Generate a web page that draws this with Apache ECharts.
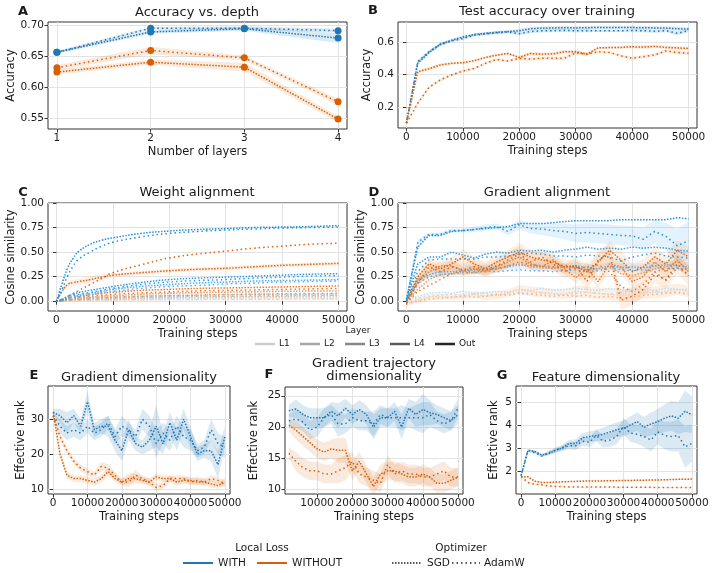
<!DOCTYPE html>
<html>
<head>
<meta charset="utf-8">
<script src="https://cdn.jsdelivr.net/npm/echarts@6.0.0/dist/echarts.min.js"></script>
<style>
  html, body { margin: 0; padding: 0; background: #fff; }
  #chart { width: 714px; height: 573px; }
</style>
</head>
<body>
<div id="chart"></div>
<script>
/* ---- data ---- */

// A: accuracy vs depth
const depthLayers = [1, 2, 3, 4];
const accWithSgd = [0.657, 0.696, 0.696, 0.692];
const accWithAdam = [0.657, 0.690, 0.695, 0.680];
const accWithoutSgd = [0.632, 0.660, 0.648, 0.577];
const accWithoutAdam = [0.625, 0.641, 0.633, 0.549];
const accWithSgdErr = [0.002, 0.002, 0.003, 0.003];
const accWithAdamErr = [0.002, 0.003, 0.003, 0.008];
const accWithoutSgdErr = [0.004, 0.006, 0.004, 0.005];
const accWithoutAdamErr = [0.004, 0.004, 0.007, 0.005];

// shared training steps
const steps = [0, 2000, 4000, 6000, 8000, 10000, 12000, 14000, 16000, 18000, 20000, 22000, 24000,
  26000, 28000, 30000, 32000, 34000, 36000, 38000, 40000, 42000, 44000, 46000, 48000, 50000];
const stepsF = [2000, 4000, 6000, 8000, 10000, 12000, 14000, 16000, 18000, 20000, 22000, 24000,
  26000, 28000, 30000, 32000, 34000, 36000, 38000, 40000, 42000, 44000, 46000, 48000, 50000];
const stepsC = [0, 1000, 2000, 3000, 4000, 6000, 8000, 10000, 15000, 20000, 25000, 30000, 35000, 40000, 45000, 50000];

// B: test accuracy
const bWithSgd = [0.105, 0.47, 0.535, 0.585, 0.61, 0.63, 0.645, 0.652, 0.658, 0.663, 0.668, 0.68, 0.684,
  0.685, 0.686, 0.685, 0.686, 0.688, 0.687, 0.688, 0.687, 0.686, 0.685, 0.684, 0.68, 0.678];
const bWithAdam = [0.105, 0.48, 0.54, 0.585, 0.605, 0.62, 0.64, 0.648, 0.655, 0.66, 0.65, 0.663, 0.667,
  0.668, 0.67, 0.667, 0.668, 0.668, 0.668, 0.668, 0.669, 0.668, 0.664, 0.668, 0.652, 0.668];
const bWithoutSgd = [0.105, 0.418, 0.436, 0.459, 0.469, 0.473, 0.485, 0.505, 0.519, 0.529, 0.505, 0.529, 0.525,
  0.527, 0.54, 0.54, 0.525, 0.564, 0.565, 0.566, 0.57, 0.568, 0.572, 0.566, 0.563, 0.56];
const bWithoutAdam = [0.105, 0.226, 0.323, 0.368, 0.398, 0.422, 0.438, 0.469, 0.493, 0.483, 0.499, 0.495, 0.5,
  0.5, 0.5, 0.533, 0.525, 0.54, 0.535, 0.515, 0.5, 0.51, 0.52, 0.545, 0.535, 0.53];
const bErr = [0, 0.01, 0.01, 0.01, 0.008, 0.008, 0.008, 0.008, 0.008, 0.008, 0.01, 0.01, 0.01,
  0.01, 0.01, 0.01, 0.01, 0.008, 0.008, 0.008, 0.01, 0.01, 0.01, 0.01, 0.012, 0.01];

// C: weight alignment (per layer)
const cWithOutSgd = [0, 0.18, 0.34, 0.44, 0.51, 0.58, 0.62, 0.645, 0.69, 0.715, 0.73, 0.74, 0.75, 0.755, 0.76, 0.77];
const cWithOutAdam = [0, 0.12, 0.26, 0.36, 0.43, 0.50, 0.56, 0.60, 0.655, 0.69, 0.71, 0.725, 0.735, 0.745, 0.75, 0.755];
const cWithL4Sgd = [0, 0.02, 0.05, 0.07, 0.09, 0.11, 0.13, 0.15, 0.19, 0.22, 0.235, 0.245, 0.255, 0.265, 0.275, 0.28];
const cWithL4Adam = [0, 0.015, 0.04, 0.055, 0.07, 0.09, 0.11, 0.13, 0.17, 0.195, 0.21, 0.22, 0.235, 0.245, 0.255, 0.26];
const cWithL3Sgd = [0, 0.01, 0.03, 0.045, 0.06, 0.08, 0.10, 0.12, 0.15, 0.17, 0.185, 0.195, 0.205, 0.21, 0.215, 0.22];
const cWithL3Adam = [0, 0.01, 0.025, 0.035, 0.045, 0.065, 0.085, 0.10, 0.13, 0.15, 0.16, 0.175, 0.185, 0.195, 0.20, 0.205];
const cWithL2Sgd = [0, 0.005, 0.01, 0.015, 0.02, 0.03, 0.035, 0.04, 0.05, 0.055, 0.06, 0.065, 0.07, 0.07, 0.072, 0.075];
const cWithL2Adam = [0, 0.005, 0.01, 0.012, 0.015, 0.02, 0.025, 0.03, 0.04, 0.045, 0.05, 0.05, 0.055, 0.055, 0.058, 0.06];
const cWithL1Sgd = [0, 0.003, 0.005, 0.008, 0.01, 0.013, 0.016, 0.02, 0.025, 0.03, 0.033, 0.035, 0.037, 0.04, 0.04, 0.042];
const cWithL1Adam = [0, 0.002, 0.004, 0.005, 0.006, 0.008, 0.01, 0.012, 0.015, 0.017, 0.018, 0.019, 0.02, 0.021, 0.022, 0.022];
const cWithoutOutSgd = [0, 0.10, 0.17, 0.19, 0.20, 0.22, 0.245, 0.265, 0.29, 0.31, 0.325, 0.335, 0.35, 0.365, 0.375, 0.385];
const cWithoutOutAdam = [0, 0.02, 0.05, 0.08, 0.11, 0.17, 0.23, 0.29, 0.37, 0.44, 0.48, 0.51, 0.54, 0.56, 0.58, 0.59];
const cWithoutL4Sgd = [0, 0.01, 0.03, 0.04, 0.05, 0.065, 0.08, 0.09, 0.11, 0.12, 0.13, 0.135, 0.14, 0.145, 0.15, 0.155];
const cWithoutL4Adam = [0, 0.01, 0.02, 0.03, 0.04, 0.05, 0.06, 0.07, 0.085, 0.095, 0.105, 0.11, 0.115, 0.12, 0.125, 0.13];
const cWithoutL3Sgd = [0, 0.005, 0.015, 0.02, 0.03, 0.04, 0.05, 0.055, 0.07, 0.08, 0.087, 0.092, 0.096, 0.1, 0.103, 0.105];
const cWithoutL3Adam = [0, 0.005, 0.01, 0.015, 0.02, 0.03, 0.035, 0.04, 0.05, 0.058, 0.063, 0.068, 0.072, 0.075, 0.078, 0.08];
const cWithoutL2Sgd = [0, 0.003, 0.006, 0.01, 0.012, 0.016, 0.02, 0.025, 0.032, 0.038, 0.042, 0.046, 0.049, 0.051, 0.053, 0.055];
const cWithoutL1Sgd = [0, 0.001, 0.003, 0.004, 0.005, 0.007, 0.009, 0.01, 0.013, 0.016, 0.018, 0.02, 0.021, 0.023, 0.024, 0.025];
const cWithoutOutSgdErr = [0, 0.02, 0.03, 0.03, 0.03, 0.03, 0.03, 0.02, 0.02, 0.02, 0.02, 0.02, 0.02, 0.02, 0.02, 0.02];

// D: gradient alignment (per layer)
const dWithOutSgd = [0.02, 0.55, 0.67, 0.67, 0.71, 0.72, 0.73, 0.74, 0.75, 0.76, 0.79, 0.79, 0.79,
  0.80, 0.81, 0.82, 0.82, 0.82, 0.82, 0.83, 0.83, 0.83, 0.83, 0.83, 0.85, 0.84];
const dWithOutAdam = [0.0, 0.60, 0.68, 0.68, 0.72, 0.72, 0.73, 0.75, 0.76, 0.71, 0.78, 0.74, 0.735,
  0.72, 0.71, 0.69, 0.70, 0.69, 0.68, 0.67, 0.665, 0.63, 0.71, 0.66, 0.565, 0.615];
const dWithL4Sgd = [0.02, 0.38, 0.45, 0.45, 0.50, 0.47, 0.44, 0.48, 0.50, 0.49, 0.52, 0.51, 0.52,
  0.50, 0.52, 0.53, 0.55, 0.53, 0.54, 0.53, 0.55, 0.54, 0.55, 0.54, 0.52, 0.51];
const dWithL4Adam = [0.02, 0.30, 0.42, 0.43, 0.43, 0.43, 0.43, 0.45, 0.45, 0.46, 0.48, 0.49, 0.48,
  0.46, 0.46, 0.45, 0.47, 0.46, 0.45, 0.41, 0.45, 0.47, 0.49, 0.46, 0.45, 0.44];
const dWithL3Sgd = [0.01, 0.22, 0.27, 0.30, 0.30, 0.31, 0.32, 0.33, 0.33, 0.35, 0.37, 0.36, 0.35,
  0.34, 0.35, 0.36, 0.34, 0.33, 0.36, 0.34, 0.35, 0.34, 0.36, 0.37, 0.36, 0.35];
const dWithL3Adam = [0.0, 0.18, 0.25, 0.27, 0.28, 0.29, 0.29, 0.31, 0.30, 0.31, 0.32, 0.31, 0.31,
  0.30, 0.31, 0.32, 0.30, 0.31, 0.34, 0.32, 0.31, 0.32, 0.30, 0.33, 0.34, 0.32];
const dWithL1Sgd = [0.01, 0.05, 0.08, 0.09, 0.08, 0.10, 0.08, 0.09, 0.10, 0.09, 0.12, 0.11, 0.13,
  0.11, 0.12, 0.13, 0.12, 0.11, 0.13, 0.12, 0.11, 0.12, 0.11, 0.13, 0.12, 0.12];
const dWithL1Adam = [-0.01, 0.03, 0.05, 0.06, 0.07, 0.06, 0.07, 0.08, 0.06, 0.07, 0.09, 0.08, 0.08,
  0.07, 0.06, 0.08, 0.09, 0.08, 0.07, 0.09, 0.10, 0.09, 0.10, 0.08, 0.09, 0.08];
const dWithoutOutSgd = [0.0, 0.25, 0.38, 0.33, 0.38, 0.45, 0.38, 0.33, 0.40, 0.45, 0.50, 0.45, 0.42,
  0.40, 0.35, 0.36, 0.30, 0.40, 0.52, 0.42, 0.30, 0.35, 0.45, 0.38, 0.52, 0.45];
const dWithoutOutAdam = [-0.02, 0.18, 0.35, 0.30, 0.35, 0.32, 0.35, 0.32, 0.36, 0.42, 0.48, 0.40, 0.45,
  0.38, 0.30, 0.36, 0.20, 0.42, 0.48, 0.01, 0.05, 0.12, 0.27, 0.22, 0.38, 0.26];
const dWithoutL4Sgd = [0.0, 0.20, 0.30, 0.36, 0.36, 0.31, 0.33, 0.30, 0.35, 0.40, 0.45, 0.38, 0.35,
  0.42, 0.33, 0.24, 0.33, 0.20, 0.38, 0.35, 0.20, 0.25, 0.40, 0.30, 0.42, 0.30];
const dWithoutL4Adam = [-0.02, 0.10, 0.16, 0.22, 0.28, 0.31, 0.30, 0.32, 0.33, 0.36, 0.40, 0.37, 0.36,
  0.35, 0.37, 0.33, 0.35, 0.37, 0.30, 0.15, 0.10, 0.17, 0.30, 0.21, 0.34, 0.27];
const dWithoutL3Sgd = [0.0, 0.12, 0.22, 0.27, 0.28, 0.30, 0.29, 0.31, 0.33, 0.36, 0.38, 0.35, 0.34,
  0.33, 0.35, 0.34, 0.32, 0.33, 0.36, 0.28, 0.26, 0.29, 0.33, 0.35, 0.40, 0.33];
const dWithoutL1Sgd = [-0.03, 0.01, 0.04, 0.05, 0.04, 0.05, 0.07, 0.05, 0.06, 0.08, 0.12, 0.10, 0.09,
  0.08, 0.07, 0.10, 0.09, 0.08, 0.07, 0.06, 0.07, 0.08, 0.09, 0.10, 0.12, 0.10];
const dWithoutL1Adam = [-0.03, 0.0, 0.02, 0.03, 0.04, 0.05, 0.04, 0.05, 0.07, 0.06, 0.08, 0.07, 0.06,
  0.05, 0.06, 0.05, 0.06, 0.04, 0.05, 0.03, 0.04, 0.06, 0.07, 0.08, 0.09, 0.07];
const dWithOutAdamErr = [0.01, 0.03, 0.02, 0.02, 0.02, 0.02, 0.03, 0.03, 0.03, 0.04, 0.05, 0.05, 0.06,
  0.07, 0.08, 0.09, 0.1, 0.1, 0.1, 0.1, 0.1, 0.12, 0.12, 0.14, 0.17, 0.2];
const dWithoutOutSgdErr = [0.02, 0.05, 0.06, 0.06, 0.07, 0.08, 0.08, 0.07, 0.08, 0.08, 0.09, 0.08, 0.08,
  0.08, 0.07, 0.07, 0.08, 0.08, 0.09, 0.09, 0.08, 0.08, 0.1, 0.09, 0.1, 0.1];
const dWithoutOutAdamErr = [0.02, 0.06, 0.06, 0.06, 0.07, 0.06, 0.07, 0.06, 0.07, 0.08, 0.08, 0.08, 0.08,
  0.07, 0.07, 0.08, 0.1, 0.1, 0.1, 0.1, 0.09, 0.08, 0.09, 0.09, 0.1, 0.1];
const dWithoutL4SgdErr = [0.02, 0.04, 0.05, 0.05, 0.05, 0.05, 0.05, 0.05, 0.05, 0.06, 0.06, 0.06, 0.06,
  0.06, 0.06, 0.06, 0.07, 0.07, 0.07, 0.07, 0.07, 0.07, 0.07, 0.07, 0.07, 0.07];
const dWithoutL1SgdErr = [0.02, 0.03, 0.03, 0.03, 0.03, 0.03, 0.03, 0.04, 0.04, 0.04, 0.05, 0.05, 0.05,
  0.05, 0.05, 0.06, 0.06, 0.06, 0.06, 0.06, 0.07, 0.06, 0.06, 0.06, 0.06, 0.06];
const dWithL3Err = [0.01, 0.03, 0.04, 0.04, 0.04, 0.04, 0.04, 0.04, 0.04, 0.04, 0.04, 0.04, 0.04,
  0.04, 0.04, 0.04, 0.04, 0.04, 0.04, 0.04, 0.04, 0.04, 0.04, 0.04, 0.05, 0.05];

// E: gradient dimensionality
const eWithSgd = [32, 31, 29, 31, 28, 35, 27, 28, 28, 24, 21, 27, 23, 22, 24, 28, 23, 29, 24, 30, 25, 20, 21, 21, 17, 25];
const eWithAdam = [31, 28, 26, 27, 26, 28, 26, 27, 29, 25, 28, 27, 25, 30, 28, 23, 26, 24, 28, 25, 24, 21, 22, 27, 23, 22];
const eWithoutSgd = [32, 20, 14, 13, 13, 12.5, 12, 13, 15, 13, 12, 13, 13, 12.5, 12, 13.5, 13, 13, 12, 12.5, 12.5, 12, 12, 11.5, 11, 12];
const eWithoutAdam = [31, 25, 21, 18, 16, 15, 14, 16.5, 16, 14, 12, 12, 14, 13, 12, 10.5, 11, 13, 13, 13, 12, 12.5, 12, 13, 12.5, 11.5];
const eWithSgdErr = [1, 2, 3, 2, 2, 3, 2, 2, 3, 3, 3, 3, 2, 2, 3, 6, 3, 3, 3, 3, 3, 2, 2, 3, 4, 3];
const eWithAdamErr = [1, 2, 2, 2, 2, 2, 2, 2, 2, 2, 3, 2, 2, 3, 3, 4, 3, 3, 3, 3, 3, 2, 2, 3, 3, 3];
const eWithoutErr = [0.5, 1, 1, 1, 1, 1, 1, 1.2, 1.2, 1, 1, 1.5, 1.5, 1, 1, 1, 1, 1, 1, 1, 1, 1, 1, 1, 1, 1];

// F: gradient trajectory dimensionality
const fWithSgd = [22.6, 22.9, 22, 21.5, 21.5, 21.5, 22.5, 21.8, 23, 22, 22.8, 22, 20, 21.5, 21.5, 22.5, 20, 23, 22, 22.8, 22.3, 22, 21.5, 21, 22];
const fWithAdam = [21, 21.3, 20.8, 19.5, 20, 21.5, 22, 20.5, 20.5, 21.5, 21, 21, 20.5, 22, 21.5, 21.5, 21.5, 21.5, 21.5, 21.5, 22, 21, 20.5, 21, 23];
const fWithoutSgd = [20.3, 19.5, 18.5, 17.5, 16.5, 16, 16.5, 16.3, 16.3, 13, 14.5, 12.5, 10.5, 12.5, 13, 13, 12.5, 12, 12, 12.5, 12, 11, 11, 11.5, 12];
const fWithoutAdam = [15.8, 14.5, 13.5, 13, 13, 12.5, 12.5, 13, 13.5, 14.5, 12.5, 12, 11.5, 11, 14, 12.5, 13, 12.5, 12.5, 12, 12, 12.5, 13, 12, 12];
const fWithErr = [1, 1.5, 1.5, 1.5, 1.5, 1.5, 1.5, 2, 1.5, 1.5, 1.5, 1.5, 2, 1.5, 1.5, 1.5, 2, 1.5, 2, 2.5, 2, 1.5, 1.5, 1.5, 1.5];
const fWithoutErr = [1, 1.5, 1.5, 1.5, 1.5, 1.5, 1.5, 2, 2, 1.5, 1.5, 1.5, 1.5, 1.5, 1.5, 1.5, 1.5, 1.5, 1.5, 1.5, 1.5, 1.5, 1.5, 1.5, 1.5];

// G: feature dimensionality
const gWithSgd = [1.8, 2.9, 2.85, 2.7, 2.75, 2.9, 3.0, 3.2, 3.2, 3.45, 3.5, 3.55, 3.6, 3.7, 3.8, 3.85, 4.0, 4.15, 3.9, 4.05, 4.15, 4.3, 4.4, 4.3, 4.6, 4.45];
const gWithAdam = [1.8, 2.9, 2.8, 2.65, 2.8, 2.9, 3.0, 3.1, 3.1, 3.3, 3.25, 3.55, 3.3, 3.35, 3.5, 3.95, 3.65, 3.6, 3.5, 3.35, 3.7, 3.55, 3.5, 3.55, 3.05, 3.2];
const gWithoutSgd = [1.75, 1.75, 1.55, 1.5, 1.5, 1.52, 1.53, 1.54, 1.55, 1.56, 1.57, 1.57, 1.57, 1.58, 1.58, 1.59, 1.59, 1.6, 1.6, 1.61, 1.61, 1.62, 1.63, 1.64, 1.64, 1.65];
const gWithoutAdam = [1.75, 1.5, 1.42, 1.4, 1.35, 1.33, 1.32, 1.31, 1.31, 1.3, 1.3, 1.3, 1.3, 1.3, 1.3, 1.29, 1.29, 1.29, 1.29, 1.29, 1.28, 1.28, 1.28, 1.28, 1.28, 1.28];
const gWithErr = [0.02, 0.05, 0.05, 0.05, 0.08, 0.1, 0.12, 0.15, 0.18, 0.2, 0.22, 0.25, 0.28, 0.3, 0.32, 0.35, 0.38, 0.4, 0.45, 0.5, 0.55, 0.6, 0.65, 0.7, 0.9, 0.8];
const gWithoutErr = [0.02, 0.03, 0.03, 0.03, 0.03, 0.03, 0.03, 0.03, 0.03, 0.03, 0.03, 0.03, 0.03, 0.03, 0.03, 0.03, 0.03, 0.03, 0.03, 0.03, 0.03, 0.03, 0.03, 0.03, 0.03, 0.03];

// tick labels
const ticksDepth = [1, 2, 3, 4];
const ticksSteps = [0, 10000, 20000, 30000, 40000, 50000];
const ticksStepsF = [10000, 20000, 30000, 40000, 50000];
const ticksAccA = [0.55, 0.60, 0.65, 0.70];
const ticksAccB = [0.2, 0.4, 0.6];
const ticksCos = [0, 0.25, 0.5, 0.75, 1.0];
const ticksRankE = [10, 20, 30];
const ticksRankF = [10, 15, 20, 25];
const ticksRankG = [2, 3, 4, 5];

/* ---- styling ---- */
const BLUE = '#1f77b4';
const ORANGE = '#d95f02';
const BLUE_L = { L1: '#b3dcf7', L2: '#86c9f3', L3: '#52b0ee', L4: '#2d9fe9', Out: '#1f8fdc' };
const ORANGE_L = { L1: '#f8cfb1', L2: '#f5b285', L3: '#f0955a', L4: '#ea7a2c', Out: '#e0620d' };
const BAND_BLUE = 'rgba(31,119,180,0.16)';
const BAND_ORANGE = 'rgba(217,95,2,0.13)';
const BAND_SKY = 'rgba(58,166,238,0.14)';
const BAND_PEACH = 'rgba(240,130,50,0.13)';
const SGD = [1.5, 1.5];
const ADAMW = [1.5, 3];
const FONT = '"DejaVu Sans", sans-serif';
const TXT = '#1a1a1a';

function pts(xs, ys) { return xs.map((x, i) => [x, ys[i]]); }

function line(g, xs, ys, color, dash, extra) {
  return Object.assign({
    type: 'line', xAxisIndex: g, yAxisIndex: g, data: pts(xs, ys),
    symbol: 'none', silent: true, z: 4,
    lineStyle: { color: color, width: 1.5, type: dash, cap: 'butt' },
    itemStyle: { color: color }
  }, extra || {});
}

// shaded spread: one polygon through the axis scales (upper edge, then lower edge back)
function band(g, xs, ys, err, fill) {
  const lo = ys.map((y, i) => y - err[i]);
  const hi = ys.map((y, i) => y + err[i]);
  return {
    type: 'custom', xAxisIndex: g, yAxisIndex: g, silent: true, z: 2, clip: true,
    data: xs.map((x, i) => [x, lo[i], hi[i]]),
    encode: { x: 0, y: [1, 2] },
    renderItem: function (params, api) {
      if (params.dataIndex !== 0) return null;
      const top = xs.map((x, i) => api.coord([x, hi[i]]));
      const bottom = xs.map((x, i) => api.coord([x, lo[i]])).reverse();
      return { type: 'polygon', shape: { points: top.concat(bottom) }, style: { fill: fill } };
    }
  };
}

function xAx(g, min, max, ticks, name) {
  return {
    type: 'value', gridIndex: g, min: min, max: max,
    name: name, nameLocation: 'middle', nameGap: 17,
    nameTextStyle: { fontFamily: FONT, fontSize: 11.5, color: TXT },
    axisLine: { show: false },
    axisTick: { show: true, length: 3.5, customValues: ticks, lineStyle: { color: '#333' } },
    axisLabel: { customValues: ticks, fontFamily: FONT, fontSize: 10.5, color: TXT, margin: 4,
      showMinLabel: true, showMaxLabel: true, hideOverlap: false, formatter: v => String(v) },
    splitLine: { show: true, lineStyle: { color: '#e3e3e3', width: 1 } }
  };
}

function yAx(g, min, max, ticks, name, gap, digits) {
  return {
    type: 'value', gridIndex: g, min: min, max: max,
    name: name, nameLocation: 'middle', nameGap: gap,
    nameTextStyle: { fontFamily: FONT, fontSize: 11.5, color: TXT },
    axisLine: { show: false },
    axisTick: { show: true, length: 3.5, customValues: ticks, lineStyle: { color: '#333' } },
    axisLabel: { customValues: ticks, fontFamily: FONT, fontSize: 10.5, color: TXT, margin: 4,
      showMinLabel: true, showMaxLabel: true, hideOverlap: false,
      formatter: v => digits == null ? String(v) : Number(v).toFixed(digits) },
    splitLine: { show: true, lineStyle: { color: '#e3e3e3', width: 1 } }
  };
}

function grid(left, top, width, height) {
  return { left: left, top: top, width: width, height: height, show: true,
    borderColor: '#333', borderWidth: 1, backgroundColor: 'transparent' };
}

function txt(x, y, text, font, align) {
  return { type: 'text', x: x, y: y, silent: true,
    style: { text: text, font: font, fill: TXT, align: align || 'center', verticalAlign: 'middle' } };
}

function hline(x1, x2, y, color, width, dash) {
  return { type: 'line', silent: true, shape: { x1: x1, y1: y, x2: x2, y2: y },
    style: { stroke: color, lineWidth: width, lineDash: dash || null } };
}

/* ---- series ---- */
const series = [];
const push = s => series.push(s);

// A
const dot = { symbol: 'circle', symbolSize: 7, showSymbol: true };
push(band(0, depthLayers, accWithSgd, accWithSgdErr, BAND_BLUE));
push(band(0, depthLayers, accWithAdam, accWithAdamErr, BAND_BLUE));
push(band(0, depthLayers, accWithoutSgd, accWithoutSgdErr, BAND_ORANGE));
push(band(0, depthLayers, accWithoutAdam, accWithoutAdamErr, BAND_ORANGE));
push(line(0, depthLayers, accWithSgd, BLUE, ADAMW, dot));
push(line(0, depthLayers, accWithAdam, BLUE, SGD, dot));
push(line(0, depthLayers, accWithoutSgd, ORANGE, ADAMW, dot));
push(line(0, depthLayers, accWithoutAdam, ORANGE, SGD, dot));

// B
push(band(1, steps, bWithSgd, bErr, BAND_BLUE));
push(band(1, steps, bWithAdam, bErr, BAND_BLUE));
push(band(1, steps, bWithoutSgd, bErr, BAND_ORANGE));
push(band(1, steps, bWithoutAdam, bErr, BAND_ORANGE));
push(line(1, steps, bWithSgd, BLUE, SGD));
push(line(1, steps, bWithAdam, BLUE, ADAMW));
push(line(1, steps, bWithoutSgd, ORANGE, SGD));
push(line(1, steps, bWithoutAdam, ORANGE, ADAMW));

// C
const sm = { smooth: true };
push(band(2, stepsC, cWithoutOutSgd, cWithoutOutSgdErr, BAND_PEACH));
[
  [cWithL1Sgd, BLUE_L.L1, SGD], [cWithL1Adam, BLUE_L.L1, ADAMW],
  [cWithL2Sgd, BLUE_L.L2, SGD], [cWithL2Adam, BLUE_L.L2, ADAMW],
  [cWithoutL1Sgd, ORANGE_L.L1, SGD], [cWithoutL2Sgd, ORANGE_L.L2, SGD],
  [cWithoutL3Sgd, ORANGE_L.L3, SGD], [cWithoutL3Adam, ORANGE_L.L3, ADAMW],
  [cWithoutL4Sgd, ORANGE_L.L4, SGD], [cWithoutL4Adam, ORANGE_L.L4, ADAMW],
  [cWithL3Sgd, BLUE_L.L3, SGD], [cWithL3Adam, BLUE_L.L3, ADAMW],
  [cWithL4Sgd, BLUE_L.L4, SGD], [cWithL4Adam, BLUE_L.L4, ADAMW],
  [cWithoutOutSgd, ORANGE_L.Out, SGD], [cWithoutOutAdam, ORANGE_L.Out, ADAMW],
  [cWithOutSgd, BLUE_L.Out, SGD], [cWithOutAdam, BLUE_L.Out, ADAMW]
].forEach(([ys, c, d]) => push(line(2, stepsC, ys, c, d, sm)));

// D
push(band(3, steps, dWithOutAdam, dWithOutAdamErr, BAND_SKY));
push(band(3, steps, dWithL3Sgd, dWithL3Err, BAND_SKY));
push(band(3, steps, dWithoutOutSgd, dWithoutOutSgdErr, BAND_PEACH));
push(band(3, steps, dWithoutOutAdam, dWithoutOutAdamErr, BAND_PEACH));
push(band(3, steps, dWithoutL4Sgd, dWithoutL4SgdErr, BAND_PEACH));
push(band(3, steps, dWithoutL1Sgd, dWithoutL1SgdErr, BAND_PEACH));
[
  [dWithL1Sgd, BLUE_L.L1, SGD], [dWithL1Adam, BLUE_L.L1, ADAMW],
  [dWithoutL1Sgd, ORANGE_L.L1, SGD], [dWithoutL1Adam, ORANGE_L.L2, ADAMW],
  [dWithL3Sgd, BLUE_L.L3, SGD], [dWithL3Adam, BLUE_L.L3, ADAMW],
  [dWithL4Sgd, BLUE_L.L4, SGD], [dWithL4Adam, BLUE_L.L4, ADAMW],
  [dWithoutL3Sgd, ORANGE_L.L3, SGD],
  [dWithoutL4Sgd, ORANGE_L.L4, SGD], [dWithoutL4Adam, ORANGE_L.L4, ADAMW],
  [dWithoutOutSgd, ORANGE_L.Out, SGD], [dWithoutOutAdam, ORANGE_L.Out, ADAMW],
  [dWithOutSgd, BLUE_L.Out, SGD], [dWithOutAdam, BLUE_L.Out, ADAMW]
].forEach(([ys, c, d]) => push(line(3, steps, ys, c, d)));

// E
push(band(4, steps, eWithSgd, eWithSgdErr, BAND_BLUE));
push(band(4, steps, eWithAdam, eWithAdamErr, BAND_BLUE));
push(band(4, steps, eWithoutSgd, eWithoutErr, BAND_ORANGE));
push(band(4, steps, eWithoutAdam, eWithoutErr, BAND_ORANGE));
push(line(4, steps, eWithSgd, BLUE, SGD));
push(line(4, steps, eWithAdam, BLUE, ADAMW));
push(line(4, steps, eWithoutSgd, ORANGE, SGD));
push(line(4, steps, eWithoutAdam, ORANGE, ADAMW));

// F
push(band(5, stepsF, fWithSgd, fWithErr, BAND_BLUE));
push(band(5, stepsF, fWithAdam, fWithErr, BAND_BLUE));
push(band(5, stepsF, fWithoutSgd, fWithoutErr, BAND_ORANGE));
push(band(5, stepsF, fWithoutAdam, fWithoutErr, BAND_ORANGE));
push(line(5, stepsF, fWithSgd, BLUE, SGD));
push(line(5, stepsF, fWithAdam, BLUE, ADAMW));
push(line(5, stepsF, fWithoutSgd, ORANGE, SGD));
push(line(5, stepsF, fWithoutAdam, ORANGE, ADAMW));

// G
push(band(6, steps, gWithSgd, gWithErr, BAND_BLUE));
push(band(6, steps, gWithAdam, gWithErr, BAND_BLUE));
push(band(6, steps, gWithoutSgd, gWithoutErr, BAND_ORANGE));
push(band(6, steps, gWithoutAdam, gWithoutErr, BAND_ORANGE));
push(line(6, steps, gWithSgd, BLUE, SGD));
push(line(6, steps, gWithAdam, BLUE, ADAMW));
push(line(6, steps, gWithoutSgd, ORANGE, SGD));
push(line(6, steps, gWithoutAdam, ORANGE, ADAMW));

/* ---- titles, panel letters, legends ---- */
const TF = '13px ' + FONT;
const LF = 'bold 13px ' + FONT;
const graphics = [
  txt(197, 13, 'Accuracy vs. depth', TF), txt(23, 12, 'A', LF),
  txt(547, 12, 'Test accuracy over training', TF), txt(373, 11, 'B', LF),
  txt(197, 193, 'Weight alignment', TF), txt(23, 193, 'C', LF),
  txt(547, 193, 'Gradient alignment', TF), txt(374, 193, 'D', LF),
  txt(139, 378, 'Gradient dimensionality', TF), txt(34, 376, 'E', LF),
  txt(374, 364, 'Gradient trajectory', TF), txt(374, 377, 'dimensionality', TF), txt(269, 375, 'F', LF),
  txt(606, 378, 'Feature dimensionality', TF), txt(502, 376, 'G', LF),
  txt(358, 331, 'Layer', '9px ' + FONT)
];
const layerGrays = [['L1', '#cccccc'], ['L2', '#a8a8a8'], ['L3', '#878787'], ['L4', '#5c5c5c'], ['Out', '#262626']];
layerGrays.forEach(([name, c], i) => {
  const x0 = 255 + i * 45;
  graphics.push(hline(x0, x0 + 20, 344, c, 2.5));
  graphics.push(txt(x0 + 24, 344, name, '9px ' + FONT, 'left'));
});
graphics.push(txt(262, 548, 'Local Loss', '10.5px ' + FONT));
graphics.push(hline(183, 213, 563, BLUE, 2));
graphics.push(txt(218, 563, 'WITH', '10.5px ' + FONT, 'left'));
graphics.push(hline(257, 287, 563, ORANGE, 2));
graphics.push(txt(292, 563, 'WITHOUT', '10.5px ' + FONT, 'left'));
graphics.push(txt(461, 548, 'Optimizer', '10.5px ' + FONT));
graphics.push(hline(392, 421, 563, '#222', 1.5, SGD));
graphics.push(txt(427, 563, 'SGD', '10.5px ' + FONT, 'left'));
graphics.push(hline(452, 480, 563, '#222', 1.5, ADAMW));
graphics.push(txt(484, 563, 'AdamW', '10.5px ' + FONT, 'left'));

const option = {
  animation: false,
  backgroundColor: '#fff',
  textStyle: { fontFamily: FONT },
  grid: [
    grid(48, 22, 299, 107),
    grid(398, 22, 299, 106),
    grid(48, 203, 299, 108),
    grid(398, 203, 299, 108),
    grid(48, 386, 182, 108),
    grid(285, 387, 178, 107),
    grid(516, 386, 181, 108)
  ],
  xAxis: [
    xAx(0, 0.905, 4.095, ticksDepth, 'Number of layers'),
    xAx(1, -1500, 51500, ticksSteps, 'Training steps'),
    xAx(2, -1500, 51500, ticksSteps, 'Training steps'),
    xAx(3, -1500, 51500, ticksSteps, 'Training steps'),
    xAx(4, -1500, 51500, ticksSteps, 'Training steps'),
    xAx(5, 900, 51400, ticksStepsF, 'Training steps'),
    xAx(6, -1500, 51500, ticksSteps, 'Training steps')
  ],
  yAxis: [
    yAx(0, 0.533, 0.706, ticksAccA, 'Accuracy', 31, 2),
    yAx(1, 0.075, 0.721, ticksAccB, 'Accuracy', 24, 1),
    yAx(2, -0.1, 1.0, ticksCos, 'Cosine similarity', 30, 2),
    yAx(3, -0.1, 1.0, ticksCos, 'Cosine similarity', 30, 2),
    yAx(4, 8.6, 39.5, ticksRankE, 'Effective rank', 21),
    yAx(5, 9.3, 26.4, ticksRankF, 'Effective rank', 25),
    yAx(6, 1.0, 5.7, ticksRankG, 'Effective rank', 16)
  ],
  series: series,
  graphic: { elements: graphics }
};

const chart = echarts.init(document.getElementById('chart'), null, { renderer: 'canvas' });
chart.setOption(option);
</script>
</body>
</html>
